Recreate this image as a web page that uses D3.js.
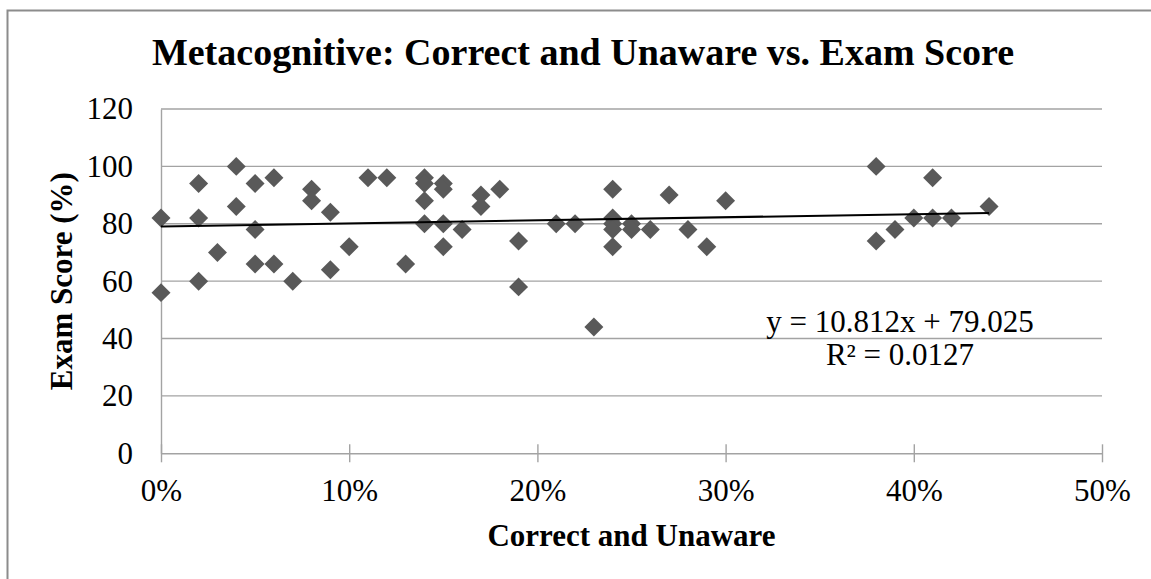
<!DOCTYPE html>
<html>
<head>
<meta charset="utf-8">
<script src="https://cdn.jsdelivr.net/npm/d3@7"></script>
<style>
  body { margin: 0; background: #fff; }
  svg { display: block; font-family: "Liberation Serif", "Times New Roman", serif; }
</style>
</head>
<body>
<svg id="chart" width="1151" height="579"></svg>
<script>

// share of answers "correct and unaware" per student
var xValues = [0, 0, 0.02, 0.02, 0.02, 0.03, 0.04, 0.04, 0.05, 0.05, 0.05, 0.06, 0.06, 0.07,
  0.08, 0.08, 0.09, 0.09, 0.10, 0.11, 0.12, 0.13, 0.14, 0.14, 0.14, 0.14,
  0.15, 0.15, 0.15, 0.15, 0.16, 0.17, 0.17, 0.18, 0.19, 0.19, 0.21, 0.22, 0.23,
  0.24, 0.24, 0.24, 0.24, 0.24, 0.25, 0.25, 0.26, 0.27, 0.28, 0.29, 0.30,
  0.38, 0.38, 0.39, 0.40, 0.41, 0.41, 0.42, 0.44];

// exam score (%) of the same students
var yValues = [82, 56, 94, 82, 60, 70, 100, 86, 94, 78, 66, 96, 66, 60,
  92, 88, 84, 64, 72, 96, 96, 66, 96, 94, 88, 80,
  94, 92, 80, 72, 78, 90, 86, 92, 74, 58, 80, 80, 44,
  92, 82, 80, 78, 72, 80, 78, 78, 90, 78, 72, 88,
  100, 74, 78, 82, 96, 82, 82, 86];

var xTicks = [0, 0.1, 0.2, 0.3, 0.4, 0.5];
var yTicks = [0, 20, 40, 60, 80, 100, 120];

// linear trendline as printed on the chart
var trendSlope = 10.812;
var trendIntercept = 79.025;
var trendLabels = ["y = 10.812x + 79.025", "R\u00b2 = 0.0127"];

var svg = d3.select("#chart");

var plotLeft = 161, plotRight = 1102, plotTop = 109, plotBottom = 453.3;
var gridColor = "#a3a3a3";

var x = d3.scaleLinear().domain([0, 0.5]).range([plotLeft, plotRight]);
var y = d3.scaleLinear().domain([0, 120]).range([plotBottom, plotTop]);

// chart border (right and bottom edge fall outside the picture)
svg.append("rect")
  .attr("x", 7.5).attr("y", 10.5)
  .attr("width", 1160).attr("height", 600)
  .attr("fill", "none")
  .attr("stroke", "#8c8c8c")
  .attr("stroke-width", 2);

svg.append("text")
  .attr("x", 583).attr("y", 65)
  .attr("text-anchor", "middle")
  .attr("font-size", 38).attr("font-weight", "bold")
  .text("Metacognitive: Correct and Unaware vs. Exam Score");

// horizontal gridlines
svg.append("g").selectAll("line")
  .data(yTicks.slice(1))
  .enter().append("line")
  .attr("x1", plotLeft).attr("x2", plotRight)
  .attr("y1", function(d){ return y(d); })
  .attr("y2", function(d){ return y(d); })
  .attr("stroke", gridColor)
  .attr("stroke-width", 1.4);

// y axis
var yAxis = svg.append("g")
  .attr("transform", "translate(" + plotLeft + ",0)")
  .call(d3.axisLeft(y).tickValues(yTicks).tickSize(0).tickPadding(28));
yAxis.select(".domain").attr("stroke", gridColor).attr("stroke-width", 1.4);
yAxis.selectAll("text")
  .attr("font-size", 31)
  .attr("font-family", "Liberation Serif")
  .attr("fill", "#000");

// x axis with crossing ticks
var xAxis = svg.append("g")
  .attr("transform", "translate(0," + plotBottom + ")")
  .call(d3.axisBottom(x).tickValues(xTicks).tickSizeOuter(0).tickFormat(d3.format(".0%")));
xAxis.select(".domain").attr("stroke", gridColor).attr("stroke-width", 1.4);
xAxis.selectAll(".tick line")
  .attr("y1", -9).attr("y2", 9)
  .attr("stroke", gridColor).attr("stroke-width", 1.4);
xAxis.selectAll("text")
  .attr("y", 48).attr("dy", 0)
  .attr("font-size", 31)
  .attr("font-family", "Liberation Serif")
  .attr("fill", "#000");

svg.append("text")
  .attr("x", (plotLeft + plotRight) / 2).attr("y", 546)
  .attr("text-anchor", "middle")
  .attr("font-size", 31).attr("font-weight", "bold")
  .text("Correct and Unaware");

svg.append("text")
  .attr("transform", "translate(72," + ((plotTop + plotBottom) / 2) + ") rotate(-90)")
  .attr("text-anchor", "middle")
  .attr("font-size", 31).attr("font-weight", "bold")
  .text("Exam Score (%)");

// points
var points = xValues.map(function(v, i){ return {x: v, y: yValues[i]}; });

svg.append("g").selectAll("path")
  .data(points)
  .enter().append("path")
  .attr("d", d3.symbol(d3.symbolSquare).size(180))
  .attr("transform", function(d){
    return "translate(" + x(d.x) + "," + y(d.y) + ") rotate(45)";
  })
  .attr("fill", "#595959");

// trendline over the data range
var xMax = d3.max(xValues);
var trend = [0, xMax].map(function(v){ return [v, trendIntercept + trendSlope * v]; });

svg.append("path")
  .datum(trend)
  .attr("d", d3.line()
    .x(function(d){ return x(d[0]); })
    .y(function(d){ return y(d[1]); }))
  .attr("fill", "none")
  .attr("stroke", "#000")
  .attr("stroke-width", 2);

svg.append("g").selectAll("text")
  .data(trendLabels)
  .enter().append("text")
  .attr("x", 900)
  .attr("y", function(d, i){ return 331.7 + i * 33.3; })
  .attr("text-anchor", "middle")
  .attr("font-size", 31)
  .text(function(d){ return d; });

</script>
</body>
</html>
